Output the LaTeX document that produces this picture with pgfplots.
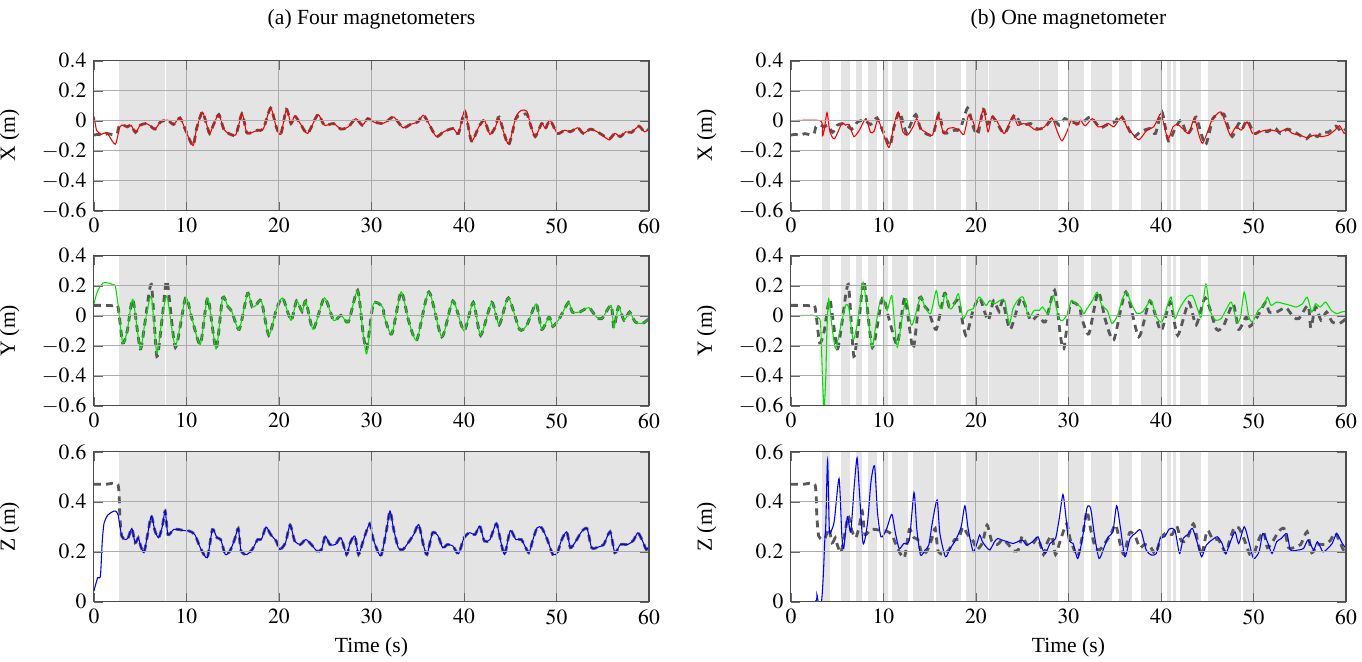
\documentclass[border=0pt]{standalone}
\usepackage{mathptmx}
\usepackage{fontspec}
\setmainfont{Liberation Serif}
\usepackage{pgfplots}
\usepackage{pgfplotstable}
\pgfplotsset{compat=1.18}

\definecolor{bandc}{RGB}{228,228,228}
\definecolor{truthc}{RGB}{88,88,88}
\definecolor{gridc}{RGB}{172,172,172}
\definecolor{estr}{RGB}{255,0,0}
\definecolor{estg}{RGB}{0,225,0}
\definecolor{estb}{RGB}{0,0,255}

% ground truth X
\pgfplotstableread[row sep=\\]{t v\\
0 -0.095\\0.5 -0.09\\1 -0.097\\1.5 -0.085\\2 -0.092\\2.5 -0.085\\2.7 -0.04\\3.2 -0.029\\3.6 -0.04\\4 -0.029\\4.5 -0.077\\5 -0.029\\5.6 -0.018\\6 -0.029\\6.6 -0.055\\7.2 -0.007\\8 0.004\\8.6 -0.024\\9.3 0.02\\9.9 -0.062\\10.7 -0.165\\11.1 -0.05\\11.7 0.059\\12.1 -0.007\\12.5 -0.084\\12.9 -0.029\\13.5 0.042\\14.1 -0.062\\15.3 -0.095\\16 0.048\\16.5 -0.077\\17.1 -0.077\\17.7 -0.062\\18.3 -0.055\\19.1 0.086\\19.7 -0.04\\20.2 -0.09\\20.8 0.077\\21.3 -0.018\\21.7 0.033\\22.3 -0.018\\23.1 -0.084\\24.2 0.042\\24.9 -0.029\\25.9 -0.018\\26.7 -0.055\\27.5 -0.04\\28.3 0.015\\29 -0.029\\29.6 0.015\\30.2 -0.007\\31.2 -0.018\\31.6 -0.007\\32.4 0.026\\33.4 -0.046\\34.2 -0.024\\35 -0.007\\35.6 0.037\\36.2 -0.018\\37 -0.105\\37.8 -0.073\\38.8 -0.051\\39.4 -0.084\\40.1 0.06\\40.8 -0.134\\41.6 -0.04\\42.2 0.004\\42.8 -0.09\\43.4 -0.04\\43.8 0.025\\44.8 -0.16\\45.6 0.015\\46.2 0.035\\46.8 0.045\\47.2 -0.029\\47.7 -0.105\\48.4 -0.018\\48.8 -0.051\\49.3 0.004\\50.1 -0.084\\50.9 -0.062\\51.5 -0.073\\52.3 -0.046\\52.9 -0.084\\53.7 -0.055\\54.7 -0.084\\55.7 -0.12\\56.3 -0.084\\56.9 -0.105\\57.5 -0.073\\58.1 -0.077\\58.9 -0.035\\59.5 -0.073\\60 -0.055\\}\gtx

% four magnetometers, X
\pgfplotstableread[row sep=\\]{t v\\
0 0.03\\0.15 -0.02\\0.3 -0.065\\0.8 -0.09\\1.4 -0.08\\2.3 -0.156\\2.8 -0.04\\3.2 -0.029\\3.6 -0.04\\4 -0.029\\4.5 -0.077\\5 -0.029\\5.6 -0.018\\6 -0.029\\6.6 -0.055\\7.2 -0.007\\8 0.004\\8.6 -0.024\\9.3 0.02\\9.9 -0.062\\10.7 -0.165\\11.1 -0.05\\11.7 0.059\\12.1 -0.007\\12.5 -0.084\\12.9 -0.029\\13.5 0.042\\14.1 -0.062\\15.3 -0.095\\16 0.048\\16.5 -0.077\\17.1 -0.077\\17.7 -0.062\\18.3 -0.055\\19.1 0.086\\19.7 -0.04\\20.2 -0.09\\20.8 0.077\\21.3 -0.018\\21.7 0.033\\22.3 -0.018\\23.1 -0.084\\24.2 0.042\\24.9 -0.029\\25.9 -0.018\\26.7 -0.055\\27.5 -0.04\\28.3 0.015\\29 -0.029\\29.6 0.015\\30.2 -0.007\\31.2 -0.018\\31.6 -0.007\\32.4 0.026\\33.4 -0.046\\34.2 -0.024\\35 -0.007\\35.6 0.037\\36.2 -0.018\\37 -0.105\\37.8 -0.073\\38.8 -0.051\\39.4 -0.084\\40.1 0.07\\40.8 -0.134\\41.6 -0.04\\42.2 0.004\\42.8 -0.09\\43.4 -0.04\\43.8 0.015\\44.8 -0.155\\45.6 0.026\\46.2 0.07\\46.8 0.064\\47.2 -0.029\\47.7 -0.105\\48.4 -0.018\\48.8 -0.051\\49.3 0.004\\50.1 -0.084\\50.9 -0.062\\51.5 -0.073\\52.3 -0.046\\52.9 -0.084\\53.7 -0.055\\54.7 -0.084\\55.7 -0.127\\56.3 -0.084\\56.9 -0.105\\57.5 -0.073\\58.1 -0.077\\58.9 -0.035\\59.5 -0.073\\60 -0.055\\}\axa

% one magnetometer, X
\pgfplotstableread[row sep=\\]{t v\\
0 0\\3.2 0\\3.4 -0.1\\3.6 -0.06\\3.9 0.055\\4.2 -0.07\\4.7 -0.12\\5.5 -0.018\\5.9 -0.029\\6.3 -0.024\\6.8 -0.105\\7.4 -0.062\\8.1 0.015\\8.6 -0.077\\9 -0.068\\9.4 0.011\\9.9 -0.073\\10.6 -0.178\\11.1 -0.04\\11.6 0.059\\12.1 -0.073\\12.6 -0.095\\13.2 -0.04\\13.6 0.015\\14 -0.051\\14.5 -0.073\\15.3 -0.095\\15.9 0.037\\16.5 -0.084\\17 -0.051\\17.6 -0.046\\18.2 -0.062\\18.7 -0.09\\19.2 0.037\\19.7 -0.007\\20.1 -0.073\\20.8 0.075\\21.3 -0.073\\21.7 0.026\\22.2 0.004\\22.6 -0.04\\23.1 -0.084\\24 0.033\\24.5 -0.029\\25.1 -0.018\\25.7 -0.029\\26.5 -0.062\\27.4 -0.04\\28.2 0.02\\28.8 -0.073\\29.3 -0.134\\29.9 -0.062\\30.3 0.004\\30.9 -0.029\\31.3 0.004\\31.8 -0.033\\32.6 0.015\\33.2 -0.04\\33.8 -0.033\\34.3 -0.018\\34.9 -0.04\\35.3 -0.007\\35.8 0.026\\36.3 -0.04\\36.8 -0.077\\37.6 -0.127\\38.4 -0.068\\39.2 -0.04\\39.5 -0.007\\40 0.048\\40.5 -0.073\\40.8 -0.121\\41.3 -0.04\\41.8 -0.024\\42.4 -0.055\\43 -0.084\\43.6 0.015\\44.1 -0.095\\44.5 -0.15\\45.1 -0.062\\45.5 0.004\\46.1 0.048\\46.5 0.059\\47 -0.018\\47.5 -0.095\\48.1 -0.04\\48.7 -0.062\\49.3 -0.007\\49.9 -0.084\\50.5 -0.077\\51.3 -0.062\\52 -0.062\\52.8 -0.073\\53.6 -0.055\\54.2 -0.084\\55 -0.095\\55.8 -0.112\\56.6 -0.095\\57.3 -0.105\\58.1 -0.095\\58.8 -0.062\\59.3 -0.033\\59.8 -0.084\\60 -0.068\\}\bxa

% ground truth Y
\pgfplotstableread[row sep=\\]{t v\\
0 0.07\\1 0.07\\2 0.068\\2.6 0.06\\3.1 -0.18\\3.6 -0.1\\4.2 0.11\\5 -0.22\\5.5 -0.05\\6.2 0.21\\6.8 -0.27\\7.4 0\\7.9 0.235\\8.8 -0.21\\9.9 0.12\\10.6 -0.02\\11.5 -0.19\\12.3 0.12\\13.2 -0.22\\13.9 0.12\\14.5 0.06\\14.9 0.03\\15.7 -0.09\\16.6 0.15\\17.1 0.06\\17.5 0.07\\18.1 0.1\\18.9 -0.13\\19.7 0.04\\20.4 0.12\\21.3 -0.03\\21.9 0.1\\22.5 0.03\\22.9 0.1\\23.7 -0.09\\24.9 0.12\\25.9 -0.03\\26.7 0.004\\27.5 -0.04\\28.5 0.17\\29.1 -0.12\\29.5 -0.22\\30.2 0.08\\31.2 0.06\\31.4 -0.007\\32.2 -0.12\\33.2 0.16\\34 -0.03\\34.9 -0.16\\36.2 0.16\\37.6 -0.14\\38.8 0.1\\40 -0.1\\41 0.09\\41.8 -0.13\\43 0.09\\43.8 -0.06\\44.8 0.12\\46 -0.09\\46.8 -0.06\\47.8 0.08\\48.4 -0.09\\49.2 -0.007\\49.6 -0.07\\50.3 -0.018\\51.3 0.09\\51.7 0.026\\52.5 0.026\\53.5 0.055\\54.3 -0.007\\54.9 -0.018\\55.9 0.07\\56.2 -0.08\\56.7 0.06\\57.3 -0.029\\57.9 0.026\\58.5 -0.04\\59.3 -0.05\\60 -0.018\\}\gty

% four magnetometers, Y
\pgfplotstableread[row sep=\\]{t v\\
0 0.08\\0.3 0.15\\0.6 0.19\\1 0.22\\1.5 0.22\\2 0.21\\2.3 0.2\\2.6 0.08\\3.1 -0.18\\3.6 -0.1\\4.2 0.11\\5 -0.22\\5.5 -0.05\\6.2 0.13\\6.8 -0.25\\7.4 0\\7.9 0.13\\8.8 -0.2\\9.9 0.12\\10.6 -0.02\\11.5 -0.19\\12.3 0.12\\13.2 -0.22\\13.9 0.12\\14.5 0.06\\14.9 0.03\\15.7 -0.09\\16.6 0.15\\17.1 0.06\\17.5 0.07\\18.1 0.1\\18.9 -0.13\\19.7 0.04\\20.4 0.12\\21.3 -0.03\\21.9 0.1\\22.5 0.03\\22.9 0.1\\23.7 -0.09\\24.9 0.12\\25.9 -0.03\\26.7 0.004\\27.5 -0.04\\28.5 0.17\\29.1 -0.12\\29.5 -0.25\\30.2 0.08\\31.2 0.06\\31.4 -0.007\\32.2 -0.12\\33.2 0.16\\34 -0.03\\34.9 -0.16\\36.2 0.16\\37.6 -0.14\\38.8 0.1\\40 -0.1\\41 0.09\\41.8 -0.13\\43 0.09\\43.8 -0.06\\44.8 0.12\\46 -0.09\\46.8 -0.06\\47.8 0.08\\48.4 -0.09\\49.2 -0.007\\49.6 -0.07\\50.3 -0.018\\51.3 0.09\\51.7 0.026\\52.5 0.026\\53.5 0.055\\54.3 -0.007\\54.9 -0.018\\55.9 0.07\\56.2 -0.08\\56.7 0.06\\57.3 -0.029\\57.9 0.026\\58.5 -0.04\\59.3 -0.05\\60 -0.018\\}\aya

% one magnetometer, Y
\pgfplotstableread[row sep=\\]{t v\\
0 0\\2.4 0.004\\2.9 -0.01\\3.2 -0.05\\3.4 -0.4\\3.58 -0.62\\3.77 -0.4\\3.88 -0.117\\4.07 0.114\\4.35 -0.029\\4.8 -0.215\\5.3 -0.095\\5.9 0.07\\6.27 0.048\\6.7 -0.16\\7.04 -0.095\\7.4 0.037\\7.8 0.224\\8.2 0.059\\8.77 -0.209\\9.15 -0.073\\9.65 0.103\\10.1 0.103\\10.4 0.037\\10.9 0.136\\11.2 -0.051\\11.5 -0.209\\12.04 -0.007\\12.5 0.114\\13 -0.062\\13.4 -0.007\\14 0.125\\14.5 0.059\\15.1 0.015\\15.7 0.169\\16 0.07\\16.35 0.048\\16.65 0.147\\17.2 0.048\\17.6 0.07\\18.1 0.147\\18.6 -0.018\\19.15 0.037\\19.7 0.048\\20.3 0.125\\20.7 0.103\\21.1 0.07\\21.5 0.103\\22 0.081\\22.6 0.103\\23.1 0.103\\23.6 -0.051\\24 0.048\\24.5 0.103\\25.1 0.125\\25.7 -0.007\\26.3 0.037\\26.85 0.037\\27.2 0.059\\27.8 0.015\\28.35 0.136\\28.96 -0.018\\29.4 -0.029\\29.9 0.015\\30.3 0.103\\30.8 0.081\\31.3 0.059\\31.65 0.015\\32 0.048\\32.6 0.103\\33.1 0.158\\33.6 0.07\\34.2 0.037\\34.7 -0.051\\35.3 0.004\\35.9 0.125\\36.3 0.158\\36.8 0.081\\37.4 0.015\\38 0.026\\38.6 0.081\\38.96 0.103\\39.5 -0.007\\40.1 -0.04\\40.7 0.07\\41.1 0.125\\41.5 -0.018\\42 0.048\\42.8 0.125\\43.4 0.136\\44 0.037\\44.35 -0.007\\44.85 0.213\\45.3 0.037\\45.9 -0.029\\46.5 -0.018\\47 0.037\\47.6 0.092\\48.2 -0.04\\48.6 -0.007\\49 0.158\\49.5 -0.007\\49.9 -0.04\\50.5 0.037\\51.1 0.07\\51.5 0.125\\51.9 0.07\\52.5 0.092\\53.3 0.081\\54 0.07\\54.6 0.059\\55.3 0.081\\55.8 0.125\\56.3 0.026\\56.7 0.081\\57.2 0.059\\57.8 0.092\\58.4 0.037\\59 0.015\\59.5 0.026\\60 0.031\\}\bya

% ground truth Z
\pgfplotstableread[row sep=\\]{t v\\
0 0.47\\1.3 0.47\\2.6 0.468\\2.8 0.34\\3 0.263\\3.4 0.249\\3.7 0.256\\4.1 0.293\\4.45 0.236\\4.8 0.256\\5 0.229\\5.4 0.196\\5.8 0.269\\6.2 0.343\\6.6 0.283\\7 0.256\\7.4 0.303\\7.7 0.363\\8 0.269\\8.6 0.289\\9.2 0.289\\9.7 0.285\\10.3 0.283\\10.9 0.269\\11.5 0.216\\12.25 0.176\\12.8 0.289\\13.3 0.256\\13.7 0.249\\14.2 0.189\\14.7 0.203\\15.2 0.249\\15.6 0.293\\15.9 0.203\\16.5 0.189\\17.1 0.209\\17.7 0.249\\18.1 0.249\\18.6 0.299\\19.1 0.269\\19.7 0.243\\20.1 0.209\\20.7 0.236\\21.2 0.307\\21.7 0.243\\22.3 0.229\\22.9 0.249\\23.5 0.229\\24.1 0.203\\24.6 0.209\\25 0.263\\25.5 0.229\\26.1 0.229\\26.7 0.256\\27.3 0.189\\27.7 0.236\\28.2 0.263\\28.6 0.189\\29.1 0.243\\29.8 0.312\\30.2 0.249\\31 0.183\\31.6 0.283\\32 0.363\\32.4 0.289\\32.9 0.216\\33.4 0.209\\34.1 0.243\\34.6 0.272\\35.1 0.309\\35.6 0.229\\36 0.189\\36.6 0.276\\37.2 0.263\\37.7 0.216\\38.2 0.229\\38.8 0.223\\39.4 0.192\\40 0.256\\40.6 0.276\\41.2 0.269\\41.7 0.303\\42.2 0.243\\42.8 0.249\\43.5 0.312\\44 0.236\\44.4 0.189\\45 0.285\\45.6 0.249\\46.2 0.249\\47 0.196\\47.4 0.243\\47.9 0.296\\48.4 0.296\\49 0.249\\49.6 0.189\\50.1 0.196\\50.5 0.243\\51.1 0.28\\51.5 0.216\\52.1 0.243\\52.7 0.28\\53.3 0.293\\53.8 0.216\\54.5 0.219\\55.1 0.229\\55.8 0.28\\56.3 0.196\\56.9 0.229\\57.7 0.229\\58.3 0.245\\58.8 0.276\\59.3 0.243\\59.7 0.209\\60 0.223\\}\gtz

% four magnetometers, Z
\pgfplotstableread[row sep=\\]{t v\\
0 0.043\\0.4 0.096\\0.7 0.103\\0.9 0.243\\1.1 0.316\\1.5 0.347\\2 0.36\\2.3 0.363\\2.6 0.349\\3 0.263\\3.4 0.249\\3.7 0.256\\4.1 0.293\\4.45 0.236\\4.8 0.256\\5 0.229\\5.4 0.196\\5.8 0.269\\6.2 0.343\\6.6 0.283\\7 0.256\\7.4 0.303\\7.7 0.363\\8 0.269\\8.6 0.289\\9.2 0.289\\9.7 0.285\\10.3 0.283\\10.9 0.269\\11.5 0.216\\12.25 0.176\\12.8 0.289\\13.3 0.256\\13.7 0.249\\14.2 0.189\\14.7 0.203\\15.2 0.249\\15.6 0.293\\15.9 0.203\\16.5 0.189\\17.1 0.209\\17.7 0.249\\18.1 0.249\\18.6 0.299\\19.1 0.269\\19.7 0.243\\20.1 0.209\\20.7 0.236\\21.2 0.307\\21.7 0.243\\22.3 0.229\\22.9 0.249\\23.5 0.229\\24.1 0.203\\24.6 0.209\\25 0.263\\25.5 0.229\\26.1 0.229\\26.7 0.256\\27.3 0.189\\27.7 0.236\\28.2 0.263\\28.6 0.189\\29.1 0.243\\29.8 0.312\\30.2 0.249\\31 0.183\\31.6 0.283\\32 0.363\\32.4 0.289\\32.9 0.216\\33.4 0.209\\34.1 0.243\\34.6 0.272\\35.1 0.309\\35.6 0.229\\36 0.189\\36.6 0.276\\37.2 0.263\\37.7 0.216\\38.2 0.229\\38.8 0.223\\39.4 0.192\\40 0.256\\40.6 0.276\\41.2 0.269\\41.7 0.303\\42.2 0.243\\42.8 0.249\\43.5 0.312\\44 0.236\\44.4 0.189\\45 0.285\\45.6 0.249\\46.2 0.249\\47 0.196\\47.4 0.243\\47.9 0.296\\48.4 0.296\\49 0.249\\49.6 0.189\\50.1 0.196\\50.5 0.243\\51.1 0.28\\51.5 0.216\\52.1 0.243\\52.7 0.28\\53.3 0.293\\53.8 0.216\\54.5 0.219\\55.1 0.229\\55.8 0.28\\56.3 0.196\\56.9 0.229\\57.7 0.229\\58.3 0.245\\58.8 0.276\\59.3 0.243\\59.7 0.209\\60 0.223\\}\aza

% one magnetometer, Z
\pgfplotstableread[row sep=\\]{t v\\
0 0\\2.6 0\\2.8 0.03\\2.95 0\\3.3 0\\3.5 0.107\\3.65 0.24\\3.77 0.313\\3.96 0.567\\4.15 0.287\\4.4 0.287\\4.7 0.327\\5.2 0.493\\5.5 0.267\\5.7 0.213\\6.1 0.34\\6.46 0.28\\6.85 0.467\\7.15 0.576\\7.4 0.44\\7.8 0.233\\8.27 0.313\\8.65 0.48\\9.04 0.544\\9.35 0.36\\9.73 0.26\\10.3 0.287\\10.9 0.35\\11.3 0.273\\11.7 0.213\\12.2 0.233\\12.8 0.247\\13.3 0.437\\13.6 0.293\\14 0.187\\14.5 0.207\\14.9 0.227\\15.3 0.32\\15.8 0.407\\16.1 0.273\\16.7 0.18\\17.2 0.213\\17.8 0.247\\18.4 0.3\\18.8 0.384\\19.15 0.293\\19.7 0.2\\20.1 0.233\\20.4 0.267\\20.7 0.24\\21.1 0.22\\21.5 0.207\\22 0.24\\22.35 0.253\\22.8 0.247\\23.4 0.24\\24 0.233\\24.5 0.24\\25 0.247\\25.5 0.227\\26.1 0.24\\26.7 0.26\\27 0.227\\27.5 0.193\\28 0.233\\28.6 0.253\\29 0.333\\29.4 0.429\\29.7 0.347\\30 0.247\\30.5 0.233\\31 0.173\\31.5 0.253\\32 0.376\\32.4 0.373\\32.8 0.267\\33.3 0.173\\33.8 0.213\\34.3 0.26\\34.8 0.28\\35.2 0.384\\35.6 0.3\\36.1 0.18\\36.65 0.253\\37.2 0.273\\37.8 0.287\\38.4 0.207\\38.96 0.187\\39.5 0.193\\39.9 0.253\\40.4 0.26\\40.9 0.291\\41.5 0.287\\42 0.193\\42.4 0.253\\42.9 0.269\\43.4 0.293\\44 0.227\\44.4 0.18\\44.9 0.227\\45.5 0.247\\46.1 0.26\\46.6 0.233\\47 0.193\\47.5 0.24\\48 0.28\\48.4 0.233\\49 0.3\\49.5 0.24\\50 0.173\\50.6 0.2\\51 0.273\\51.5 0.24\\52 0.193\\52.5 0.24\\53 0.253\\53.6 0.273\\54 0.207\\54.8 0.207\\55.4 0.213\\55.9 0.247\\56.5 0.207\\56.9 0.24\\57.5 0.2\\58 0.213\\58.5 0.233\\59 0.273\\59.6 0.233\\60 0.213\\}\bza

\pgfplotsset{
  panel/.style={
    scale only axis, width=257pt, height=69.4pt,
    xmin=0, xmax=60, xtick={0,10,20,30,40,50,60},
    xmajorgrids, ymajorgrids, axis on top,
    grid style={gridc, line width=0.45pt},
    axis line style={black!70, line width=0.5pt},
    major tick style={black!60},
    ylabel style={at={(axis description cs:-0.1206,0.5)}, anchor=south},
    xlabel style={yshift=1pt},
    title style={at={(axis description cs:0.5,1)}, anchor=base, yshift=10.9pt},
  },
  xypanel/.style={ymin=-0.6, ymax=0.4, ytick={-0.6,-0.4,-0.2,0,0.2,0.4}},
  zpanel/.style={ymin=0, ymax=0.6, ytick={0,0.2,0.4,0.6}},
  band/.style={fill=bandc, draw=none, forget plot},
  truth/.style={truthc, line width=1.3pt, dash pattern=on 3.2pt off 2.4pt, smooth, tension=0.4},
  est/.style={line width=0.5pt, smooth, tension=0.4},
}
% one shaded block from #1 s to #2 s
\newcommand\band[2]{\addplot[band] coordinates {(#1,-1) (#1,1) (#2,1) (#2,-1)};}
\newcommand\bandsA{\band{2.67}{7.72}\band{7.82}{60}}
\newcommand\bandsB{%
  \band{3.38}{4.27}\band{5.42}{6.38}\band{7.04}{7.69}\band{8.38}{9.27}%
  \band{9.92}{10.5}\band{10.96}{12.6}\band{13.2}{15.5}\band{15.7}{18.4}%
  \band{18.96}{21.27}\band{21.4}{26.85}\band{26.96}{28.85}\band{29.92}{31.73}%
  \band{32.42}{34.65}\band{35.42}{36.85}\band{37.88}{40.1}\band{40.6}{41.08}%
  \band{41.27}{41.65}\band{42.04}{44.35}\band{45.1}{48.65}\band{48.9}{60}}

\begin{document}
\begin{tikzpicture}
\useasboundingbox (-43.5pt,-278.3pt) rectangle (587.1pt,28.2pt);

% (a) four magnetometers
\begin{axis}[panel, xypanel, at={(0pt,0pt)}, anchor=north west,
  ylabel={X (m)}, title={(a) Four magnetometers}]
  \bandsA
  \addplot[truth] table {\gtx};
  \addplot[est, estr] table {\axa};
\end{axis}
\begin{axis}[panel, xypanel, at={(0pt,-90.3pt)}, anchor=north west,
  ylabel={Y (m)}]
  \bandsA
  \addplot[truth] table {\gty};
  \addplot[est, estg] table {\aya};
\end{axis}
\begin{axis}[panel, zpanel, at={(0pt,-181pt)}, anchor=north west,
  ylabel={Z (m)}, xlabel={Time (s)}]
  \bandsA
  \addplot[truth] table {\gtz};
  \addplot[est, estb] table {\aza};
\end{axis}

% (b) one magnetometer
\begin{axis}[panel, xypanel, at={(322.7pt,0pt)}, anchor=north west,
  ylabel={X (m)}, title={(b) One magnetometer}]
  \bandsB
  \addplot[truth] table {\gtx};
  \addplot[est, estr] table {\bxa};
\end{axis}
\begin{axis}[panel, xypanel, at={(322.7pt,-90.3pt)}, anchor=north west,
  ylabel={Y (m)}]
  \bandsB
  \addplot[truth] table {\gty};
  \addplot[est, estg] table {\bya};
\end{axis}
\begin{axis}[panel, zpanel, at={(322.7pt,-181pt)}, anchor=north west,
  ylabel={Z (m)}, xlabel={Time (s)}]
  \bandsB
  \addplot[truth] table {\gtz};
  \addplot[est, estb] table {\bza};
\end{axis}
\end{tikzpicture}
\end{document}
